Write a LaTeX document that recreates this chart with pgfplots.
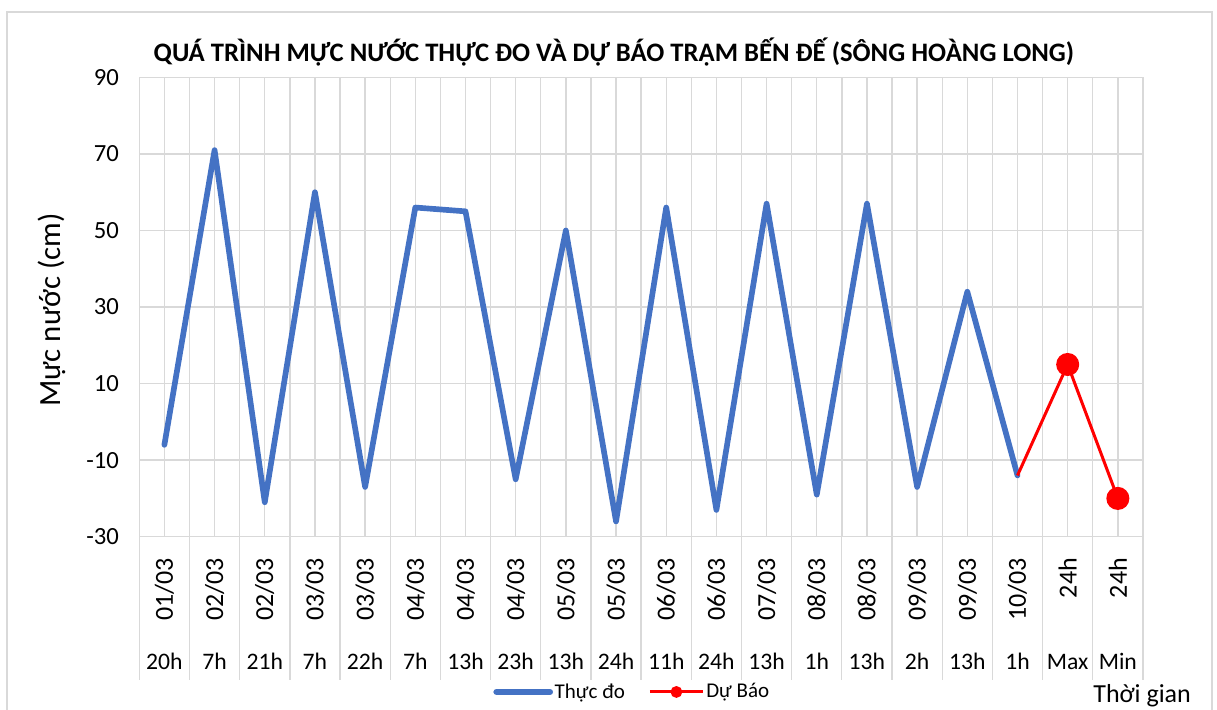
\documentclass[border=0pt]{standalone}
\usepackage{fontspec}
\setmainfont{Carlito}
\usepackage{pgfplots}
\pgfplotsset{compat=1.18}
\usepackage{graphicx}
\definecolor{blueS}{HTML}{4472C4}
\definecolor{gridc}{HTML}{D9D9D9}
\newcommand{\rd}[1]{\rotatebox{90}{#1}}
\begin{document}
\begin{tikzpicture}[x=0.6pt,y=0.6pt]
\useasboundingbox (0,0) rectangle (1217,709);
\draw[gridc, line width=1.2pt] (7,-5) -- (7,697) -- (1212,697) -- (1212,-5);
\begin{axis}[
  at={(83.58pt,103.38pt)}, anchor=south west,
  scale only axis, width=602.2pt, height=275.6pt,
  xmin=-0.5, xmax=19.5, ymin=-30, ymax=90,
  ytick={-30,-10,...,90},
  xtick={0,...,19},
  minor xtick={-0.5,0.5,...,19.5},
  grid=both,
  major grid style={gridc, line width=0.8pt},
  minor grid style={gridc, line width=0.8pt},
  major tick length=0pt, minor tick length=0pt,
  axis line style={draw=none},
  /pgf/number format/assume math mode=true,
  yticklabel style={anchor=east, inner sep=0pt, xshift=-12pt, font=\fontsize{14.8}{17}\selectfont},
  xticklabels={\rd{01/03},\rd{02/03},\rd{02/03},\rd{03/03},\rd{03/03},\rd{04/03},\rd{04/03},\rd{04/03},\rd{05/03},\rd{05/03},\rd{06/03},\rd{06/03},\rd{07/03},\rd{08/03},\rd{08/03},\rd{09/03},\rd{09/03},\rd{10/03},\rd{24h},\rd{24h}},
  xticklabel style={anchor=north, inner sep=0pt, inner ysep=12.6pt, font=\fontsize{15.6}{18}\selectfont},
  extra x ticks={0,...,19},
  extra x tick labels={20h,7h,21h,7h,22h,7h,13h,23h,13h,24h,11h,24h,13h,1h,13h,2h,13h,1h,Max,Min},
  extra x tick style={grid=none, xticklabel style={anchor=base, inner sep=0pt, yshift=-79.8pt, font=\fontsize{14.2}{16}\selectfont}},
  clip=false,
  legend columns=2,
  legend style={at={(0.491,-0.338)}, anchor=center, draw=none, fill=none,
    font=\fontsize{12.6}{14}\selectfont,
    nodes={inner sep=1pt},
    /tikz/every even column/.append style={column sep=13pt}},
  legend cell align=left,
]
\addplot[blueS, line width=3.4pt, line join=round, line cap=round,
  legend image code/.code={\draw[blueS, line width=3.8pt, line cap=round] (2pt,0pt) -- (34pt,0pt);}]
  coordinates {(0,-6)(1,71)(2,-21)(3,60)(4,-17)(5,56)(6,55)(7,-15)(8,50)(9,-26)(10,56)(11,-23)(12,57)(13,-19)(14,57)(15,-17)(16,34)(17,-14)};
\addlegendentry{Thực đo}
\addplot[red, line width=1.8pt, mark=*, mark size=6pt, mark indices={2,3},
  legend image code/.code={\draw[red, line width=1.8pt] (0pt,0pt) -- (32pt,0pt); \fill[red] (16pt,0pt) circle (2.6pt);}]
  coordinates {(17,-14)(18,15)(19,-20)};
\addlegendentry{Dự Báo}
\end{axis}
\foreach \k in {0,...,20} \draw[gridc, line width=0.8pt] ({139.3+\k*50.18},172.3) -- ++(0,-143);
\node[font=\fontsize{16}{19}\bfseries, anchor=base] at (614,647) {QUÁ TRÌNH MỰC NƯỚC THỰC ĐO VÀ DỰ BÁO TRẠM BẾN ĐẾ (SÔNG HOÀNG LONG)};
\node[rotate=90, font=\fontsize{18.5}{22}\selectfont] at (52,399) {Mực nước (cm)};
\node[anchor=base west, inner sep=0pt, font=\fontsize{15.6}{18}\selectfont] at (1093,7) {Thời gian};
\end{tikzpicture}
\end{document}
